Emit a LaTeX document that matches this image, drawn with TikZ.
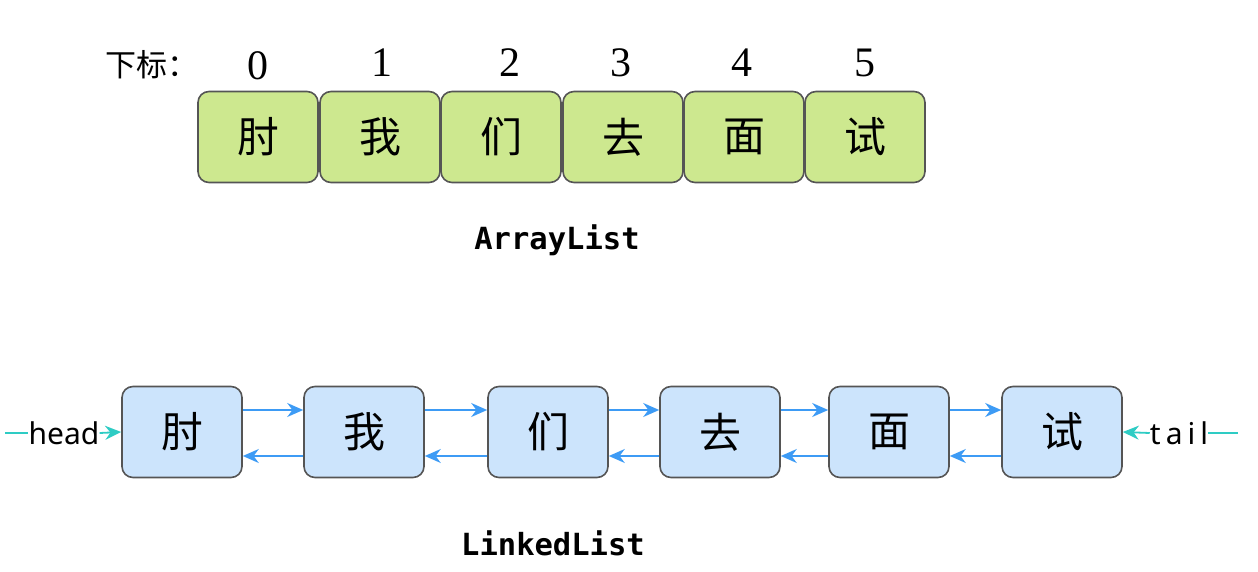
\documentclass[tikz,border=0pt]{standalone}
\usepackage{fontspec}
\usetikzlibrary{arrows.meta}
\newfontfamily\cjk{Noto Sans CJK SC}
\newfontfamily\monob{DejaVu Sans Mono}
\newfontfamily\serifd{Liberation Serif}
\newfontfamily\sanslbl{Noto Sans}
\definecolor{arrgreen}{HTML}{CDE88F}
\definecolor{lnkblue}{HTML}{CCE4FC}
\definecolor{bordergray}{HTML}{555555}
\definecolor{arrowblue}{HTML}{3D9BF5}
\definecolor{teal}{HTML}{2ECCC4}
\tikzset{
  cell/.style={draw=bordergray, line width=1.6pt, rounded corners=11pt,
    minimum width=120pt, minimum height=91pt, inner sep=0pt,
    font=\cjk\fontsize{42}{42}\selectfont},
  acell/.style={cell, fill=arrgreen},
  lcell/.style={cell, fill=lnkblue},
  idx/.style={font=\serifd\fontsize{42}{42}\selectfont, inner sep=0pt},
  title/.style={font=\monob\bfseries\fontsize{30.5}{30.5}\selectfont, inner sep=0pt},
  fwd/.style={draw=arrowblue, line width=1.8pt, -{Stealth[length=16pt,width=14pt]}},
  ptr/.style={draw=teal, line width=1.8pt},
  ptrarr/.style={ptr, -{Stealth[length=16pt,width=14pt]}},
  lbl/.style={font=\sanslbl\fontsize{30}{30}\selectfont, inner sep=0pt}
}
\begin{document}
\begin{tikzpicture}[x=1pt,y=-1pt]
\useasboundingbox (0,0) rectangle (1258,572);
% ArrayList
\node[font=\cjk\fontsize{31}{31}\selectfont, inner sep=0pt] (lab) at (152,65) {下标：};
\node[acell] (a0) at (258,137) {肘};
\node[acell] (a1) at (380,137) {我};
\node[acell] (a2) at (501,137) {们};
\node[acell] (a3) at (623,137) {去};
\node[acell] (a4) at (744,137) {面};
\node[acell] (a5) at (865,137) {试};
\node[idx] (i0) at (258,66) {0};
\node[idx] (i1) at (382,63) {1};
\node[idx] (i2) at (510,63) {2};
\node[idx] (i3) at (621,63) {3};
\node[idx] (i4) at (742,63) {4};
\node[idx] (i5) at (865,63) {5};
\node[title] (t1) at (557,240) {ArrayList};
% LinkedList
\node[lcell] (b0) at (182,432) {肘};
\node[lcell] (b1) at (364,432) {我};
\node[lcell] (b2) at (548,432) {们};
\node[lcell] (b3) at (720,432) {去};
\node[lcell] (b4) at (889,432) {面};
\node[lcell] (b5) at (1062,432) {试};
\foreach \p/\n in {b0/b1,b1/b2,b2/b3,b3/b4,b4/b5}{
  \draw[fwd] ([yshift=22pt]\p.east) -- ([yshift=22pt]\n.west);
  \draw[fwd] ([yshift=-24pt]\n.west) -- ([yshift=-24pt]\p.east);
}
\coordinate (hs) at (5,433);
\node[lbl] (head) at (64,433) {head};
\draw[ptr] (hs) -- (head.west);
\draw[ptrarr] (head.east) -- (b0.west);
\node[lbl] (tail) at (1179,433) {t\,a\,i\,l};
\coordinate (te) at (1238,433);
\draw[ptrarr] (tail.west) -- (b5.east);
\draw[ptr] (tail.east) -- (te);
\node[title] (t2) at (553,543) {LinkedList};
\end{tikzpicture}
\end{document}
